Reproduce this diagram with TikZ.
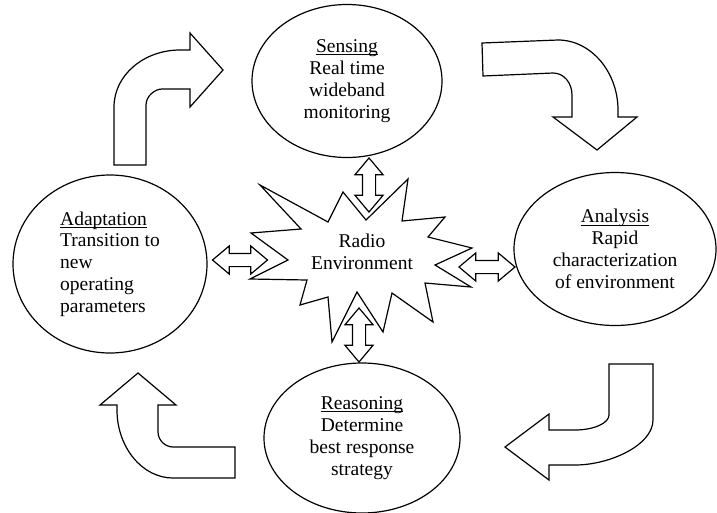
\documentclass[tikz,border=0pt]{standalone}
\usepackage{fontspec}
\setmainfont{Liberation Serif}
\usetikzlibrary{shapes.geometric,shapes.arrows}
\newcommand{\phasename}[1]{\setbox0\hbox{#1}\rlap{\rule[-2.6pt]{\wd0}{0.9pt}}\box0}

\begin{document}
\begin{tikzpicture}[x=1pt,y=-1pt,line width=1.2pt]
\tikzstyle{phase}=[ellipse,draw,align=center,inner sep=0pt,font=\fontsize{19.5}{21.8}\selectfont]
\tikzstyle{dblarr}=[double arrow,draw,minimum height=54pt,double arrow head extend=7.5pt,double arrow tip angle=80,inner xsep=0pt,inner ysep=6pt]
\tikzstyle{cyclearr}=[draw,line join=miter]
\useasboundingbox (0,0) rectangle (717,512);
% the four phases
\node [phase,minimum width=190pt,minimum height=153pt] (sense) at (347,81) {\phasename{Sensing}\\Real time\\wideband\\monitoring};
\node [phase,minimum width=202pt,minimum height=153pt] (analyse) at (615,249) {\phasename{Analysis}\\Rapid\\characterization\\of environment};
\node [phase,minimum width=196pt,minimum height=150pt] (reason) at (362,438) {\phasename{Reasoning}\\Determine\\best response\\strategy};
\node [phase,align=left,minimum width=194pt,minimum height=178pt] (adapt) at (110,264) {\phasename{Adaptation}\\Transition to\\new\\operating\\parameters};
% radio environment
\draw (260,185) -- (328,222) -- (343,192) -- (366,220) -- (408,179) -- (402,221) -- (445,217) -- (428,237) -- (472,248) -- (435,265) -- (471,287) -- (425,283) -- (433,322) -- (392,293) -- (383,332) -- (357,292) -- (332,342) -- (328,297) -- (300,305) -- (307,280) -- (250,279) -- (288,260) -- (251,233) -- (301,229) -- cycle;
\node [align=center,font=\fontsize{19.5}{21.8}\selectfont] (env) at (362,252) {Radio\\Environment};
% links to the environment
\node [dblarr,rotate=90] (senv) at (369,185) {};
\node [dblarr,minimum height=55pt] (aenv) at (240,260) {};
\node [dblarr,minimum height=56pt] (anenv) at (487,267) {};
\node [dblarr,rotate=90] (renv) at (359,335) {};
% cycle arrows
\draw [cyclearr] (114,165) -- (114,107) .. controls (114,75) and (144,50) .. (180,50) -- (190,50) -- (190,33) -- (223,70) -- (190,107) -- (190,89) -- (162,89) .. controls (155,89) and (146,96) .. (146,105) -- (146,165) -- cycle;
\draw [cyclearr] (482,43) -- (558,40) .. controls (591,40) and (618,72) .. (618,110) -- (618,117) -- (637,117) -- (597,150) -- (553,117) -- (572,117) -- (572,95) .. controls (572,83) and (564,73) .. (553,73) -- (483,76) -- cycle;
\draw [cyclearr] (609,364) -- (653,364) -- (653,420) .. controls (653,445) and (610,465) .. (575,465) -- (549,465) -- (549,480) -- (505,447) -- (549,414) -- (549,430) -- (575,430) .. controls (594,430) and (609,423) .. (609,415) -- cycle;
\draw [cyclearr] (235,447) -- (235,478) -- (173,478) .. controls (142,478) and (117,447) .. (117,410) -- (117,405) -- (100,405) -- (138,373) -- (176,405) -- (158,405) -- (158,432) .. controls (158,440) and (165,447) .. (173,447) -- cycle;
\end{tikzpicture}
\end{document}
